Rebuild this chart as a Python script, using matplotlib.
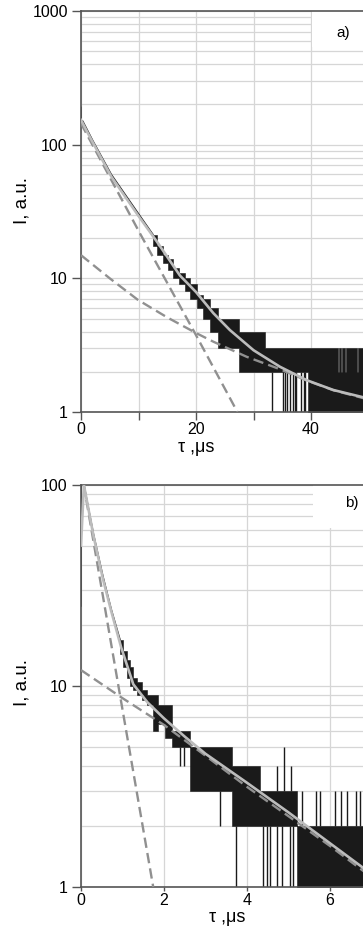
import numpy as np
import matplotlib
matplotlib.use('Agg')
import matplotlib.pyplot as plt
from matplotlib.patches import Rectangle

plt.rcParams['font.family'] = ['Liberation Sans', 'DejaVu Sans']

# ---------------- panel a) ----------------
# measured decay, start where it follows the fit
a_lead_t = [0.0, 0.0, 0.3, 2, 5.3, 9.9, 12.5]
a_lead_i = [190, 150, 150, 108, 59.5, 30.8, 21.3]
# noisy tail as step bands (segment edges, low / high counts)
a_edges = [12.5, 13.3, 14.3, 15.2, 16.0, 17.0, 18.0, 19.0, 20.2, 21.2, 22.4,
           23.8, 27.4, 32.0, 39.5, 44.7, 44.85, 45.3, 45.45, 45.9, 46.05,
           48.0, 48.15, 50]
a_lo = [17.5, 15, 13, 11.5, 10, 9, 8, 7, 6, 5, 4, 3, 2, 2, 1, 1, 1, 1, 1, 1, 1, 1, 1]
a_hi = [21, 17.5, 15, 14, 12, 11, 10, 9, 7.5, 7, 6, 5, 4, 3, 3, 2, 3, 2, 3, 2, 3, 2, 3]
# single spikes
a_spk_t = [33.3, 35.2, 35.4, 35.9, 36.4, 36.8, 37.2, 37.4, 38.2, 38.7, 39.0]
a_spk_lo = [1, 1, 1, 1, 1, 1, 1, 1, 1, 1, 1]
a_spk_hi = [2, 2, 2, 2, 2, 2, 2, 2, 2, 2, 2]
# fit (solid) and its two components (dashed)
a_fit_t = [0, 2, 5.3, 9.9, 13.4, 17.2, 20, 23, 25.9, 30, 34.6, 39.25, 43.9, 50]
a_fit_i = [153, 105, 57.5, 29.7, 18.3, 10.5, 7.9, 5.5, 4.1, 2.9, 2.18, 1.73, 1.46, 1.26]
a_fast_t = [0, 10.3, 19.8, 27.2]
a_fast_i = [144, 21.5, 3.9, 1.0]
a_slow_t = [0, 5, 9.9, 15, 20, 23, 28.8, 34.6, 39.25, 44, 50]
a_slow_i = [14.9, 10.0, 6.9, 5.1, 3.9, 3.36, 2.59, 2.09, 1.72, 1.45, 1.24]

# ---------------- panel b) ----------------
b_lead_t = [0.0, 0.0, 0.07, 0.3, 0.53, 0.73, 0.94]
b_lead_i = [25, 100, 100, 57, 35, 24, 17]
b_edges = [0.94, 1.02, 1.1, 1.18, 1.25, 1.36, 1.47, 1.6, 1.73, 1.86, 2.02, 2.2,
           2.63, 3.64, 4.31, 5.2, 7]
b_lo = [14.5, 12.5, 11, 10, 9.5, 9, 8.5, 8, 6, 6.5, 5.5, 5, 3, 2, 2, 1]
b_hi = [17, 15, 13.5, 12.5, 11, 10.5, 9.5, 9, 9, 8, 8, 6, 5, 4, 3, 2]
b_spk_t = [2.39, 2.47, 2.71, 3.36, 3.73, 4.39, 4.47, 4.55, 4.72, 4.84, 5.04, 5.12,
           4.72, 4.88, 5.07, 5.32, 5.66, 5.77, 6.12, 6.26, 6.4, 6.62, 6.72]
b_spk_lo = [4, 4, 4, 2, 1, 1, 1, 1, 1, 1, 1, 1,
            3, 3, 3, 2, 2, 2, 2, 2, 2, 2, 2]
b_spk_hi = [5, 5, 5, 3, 2, 2, 2, 2, 2, 2, 2, 2,
            4, 5, 4, 3, 3, 3, 3, 3, 3, 3, 3]
b_fit_t = [0, 0.07, 0.3, 0.53, 0.73, 0.97, 1.26, 1.6, 2.0, 2.5, 3.0, 4.0, 5.0, 6.0, 7.0]
b_fit_i = [50, 100, 56, 34, 23.5, 15.5, 10.2, 8.3, 6.9, 5.6, 4.6, 3.3, 2.35, 1.65, 1.16]
b_fast_t = [0, 0.94, 1.74]
b_fast_i = [120, 9, 1.0]
b_slow_t = [0, 1, 2, 3, 4, 5, 6, 7]
b_slow_i = [12, 8.7, 6.4, 4.5, 3.15, 2.25, 1.6, 1.12]

dark = '#1a1a1a'
fitc = '#bcbcbc'
dashc = '#909090'
gridc = '#d6d6d6'
spc = '#555555'

fig = plt.figure(figsize=(3.63, 9.40), dpi=100)
W, H = 363, 940


def panel(rect, xmax, ymax, xmaj, xmin, xtick_len, lead, band, spk, fit, fast, slow,
          tag, box, tagpos):
    ax = fig.add_axes(rect)
    ax.set_yscale('log')
    ax.set_xlim(0, xmax)
    ax.set_ylim(1, ymax)
    ax.set_axisbelow(True)

    ax.plot(lead[0], lead[1], color=dark, lw=1.1, zorder=2)
    e, lo, hi = band
    ax.fill_between(e, lo + [lo[-1]], hi + [hi[-1]], step='post',
                    color=dark, lw=0.4, zorder=2)
    ax.vlines(spk[0], spk[1], spk[2], color=dark, lw=1.0, zorder=2)

    ax.plot(fast[0], fast[1], color=dashc, lw=1.7, dashes=(4.4, 2.2), zorder=3)
    ax.plot(slow[0], slow[1], color=dashc, lw=1.7, dashes=(4.4, 2.2), zorder=3)
    ax.plot(fit[0], fit[1], color=fitc, lw=1.9, zorder=4)

    ax.set_xticks(xmaj)
    ax.set_xticks(xmin, minor=True)
    ax.set_xticklabels([str(v) for v in xmaj])
    ax.grid(True, which='major', axis='x', color=gridc, lw=0.9)
    ax.grid(True, which='both', axis='y', color=gridc, lw=0.9)
    ax.xaxis.grid(True, which='minor', color=gridc, lw=0.9)
    ax.yaxis.set_major_formatter(matplotlib.ticker.FuncFormatter(lambda v, p: '%g' % v))
    ax.yaxis.set_minor_formatter(matplotlib.ticker.NullFormatter())
    ax.tick_params(axis='y', which='major', length=6.5, width=1.0, color=spc,
                   pad=3, labelsize=11.5)
    ax.tick_params(axis='x', which='both', length=xtick_len, width=1.0, color=spc,
                   pad=1.5, labelsize=11.5)
    ax.tick_params(axis='y', which='minor', length=0)
    for s in ('left', 'top', 'bottom'):
        ax.spines[s].set_color(spc)
        ax.spines[s].set_linewidth(1.2)
    ax.spines['right'].set_visible(False)

    ax.add_patch(Rectangle((box[0], box[1]), 1 - box[0], 1 - box[1],
                           transform=ax.transAxes, facecolor='white',
                           edgecolor='none', zorder=1.5))
    ax.text(tagpos[0], tagpos[1], tag, transform=ax.transAxes,
            ha='center', va='center', fontsize=11, zorder=5)
    return ax


ax1 = panel([81 / W, 1 - 412 / H, 50 * 5.75 / W, 401 / H], 50, 1000,
            [0, 20, 40], [10, 30], 5.5,
            (a_lead_t, a_lead_i), (a_edges, a_lo, a_hi), (a_spk_t, a_spk_lo, a_spk_hi),
            (a_fit_t, a_fit_i), (a_fast_t, a_fast_i), (a_slow_t, a_slow_i),
            'a)', (0.804, 0.91), (0.911, 0.945))

ax2 = panel([81 / W, 1 - 887 / H, 7 * 41.5 / W, 402 / H], 7, 100,
            [0, 2, 4, 6], [], 3,
            (b_lead_t, b_lead_i), (b_edges, b_lo, b_hi), (b_spk_t, b_spk_lo, b_spk_hi),
            (b_fit_t, b_fit_i), (b_fast_t, b_fast_i), (b_slow_t, b_slow_i),
            'b)', (0.798, 0.893), (0.932, 0.9545))

fig.text(22 / W, 1 - 200 / H, 'I, a.u.', rotation=90, ha='center', va='center', fontsize=13.5)
fig.text(22 / W, 1 - 682 / H, 'I, a.u.', rotation=90, ha='center', va='center', fontsize=13.5)
fig.text(196 / W, 1 - 448 / H, 'τ ,μs', ha='center', va='center', fontsize=13)
fig.text(227 / W, 1 - 918 / H, 'τ ,μs', ha='center', va='center', fontsize=13)

fig.savefig('out.png', dpi=100)
